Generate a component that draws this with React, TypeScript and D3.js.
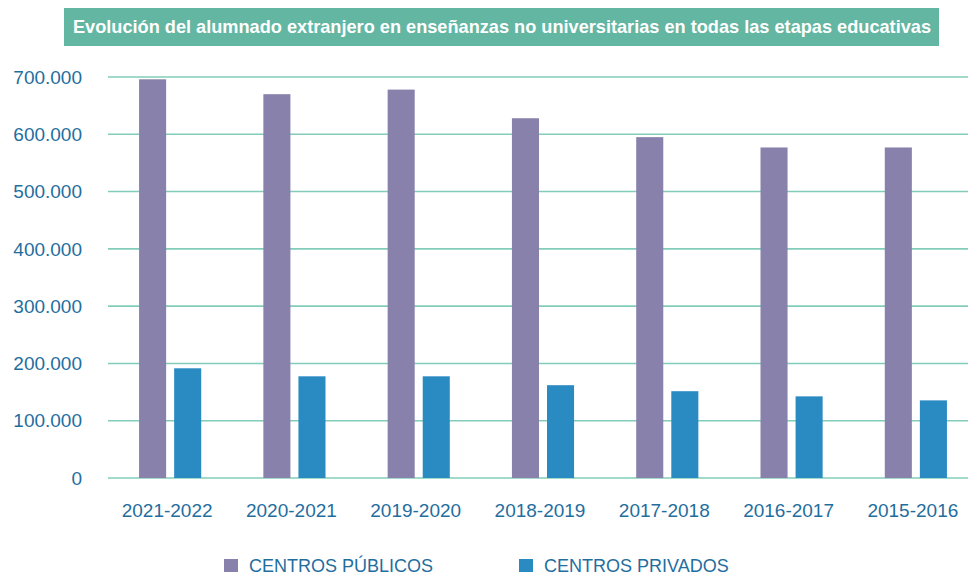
import React from 'react'
import * as d3 from 'd3'

const categories = ['2021-2022', '2020-2021', '2019-2020', '2018-2019', '2017-2018', '2016-2017', '2015-2016']
const publicos = [696000, 670000, 678000, 628000, 595000, 577000, 577000]
const privados = [191500, 177500, 177500, 162000, 151500, 142500, 135500]
const seriesNames = ['CENTROS PÚBLICOS', 'CENTROS PRIVADOS']
const seriesColors = ['#8781ab', '#2a8ac2']
const yTicks = [0, 100000, 200000, 300000, 400000, 500000, 600000, 700000]
const title = 'Evolución del alumnado extranjero en enseñanzas no universitarias en todas las etapas educativas'

const width = 968
const height = 576
const margin = { left: 108, right: -10, top: 77, bottom: 98 }

const labelColor = '#1f6e9e'
const font = '"Liberation Sans", Arial, sans-serif'

const fmt = (v: number) => v === 0 ? '0' : d3.format(',')(v).replace(/,/g, '.')

const App = () => {
    const x = d3.scaleBand<string>()
        .domain(categories)
        .range([margin.left, width - margin.right])
        .paddingInner(0.5)
        .paddingOuter(0.25)

    const xSub = d3.scaleBand<number>()
        .domain([0, 1])
        .range([0, x.bandwidth()])
        .paddingInner(0.2286)

    const y = d3.scaleLinear()
        .domain([0, 700000])
        .range([height - margin.bottom, margin.top])

    const series = [publicos, privados]

    return (
        <svg width={width} height={height} style={{ position: 'absolute', left: 0, top: 0, background: '#fff' }}>
            {/* title banner */}
            <rect x={64} y={8} width={875} height={38} fill="#62b6a2" />
            <text x={73} y={33} fill="#fff" fontFamily={font} fontWeight={600} fontSize={18.5}
                textLength={858} lengthAdjust="spacingAndGlyphs">{title}</text>

            {/* gridlines */}
            {yTicks.map(t => (
                <line key={t} x1={margin.left} x2={width} y1={y(t)} y2={y(t)}
                    stroke="#82ccb9" strokeWidth={1.6} />
            ))}
            {yTicks.map(t => (
                <text key={'l' + t} x={82} y={y(t)} dy="0.35em" textAnchor="end"
                    fill={labelColor} fontFamily={font} fontSize={19}>{fmt(t)}</text>
            ))}

            {/* bars */}
            {series.map((vals, s) => vals.map((v, i) => (
                <rect key={s + '-' + i}
                    x={(x(categories[i]) as number) + (xSub(s) as number)}
                    y={y(v)}
                    width={xSub.bandwidth()}
                    height={y(0) - y(v)}
                    fill={seriesColors[s]} />
            )))}

            {/* x labels */}
            {categories.map(c => (
                <text key={c} x={(x(c) as number) + x.bandwidth() / 2 - 3} y={517}
                    textAnchor="middle" fill={labelColor} fontFamily={font} fontSize={19}>{c}</text>
            ))}

            {/* legend */}
            {seriesNames.map((n, i) => {
                const lx = i === 0 ? 224 : 519
                return (
                    <g key={n} transform={`translate(${lx},559)`}>
                        <rect width={14} height={13} fill={seriesColors[i]} />
                        <text x={25} y={13} fill={labelColor} fontFamily={font} fontSize={18}>{n}</text>
                    </g>
                )
            })}
        </svg>
    )
}

export default App
